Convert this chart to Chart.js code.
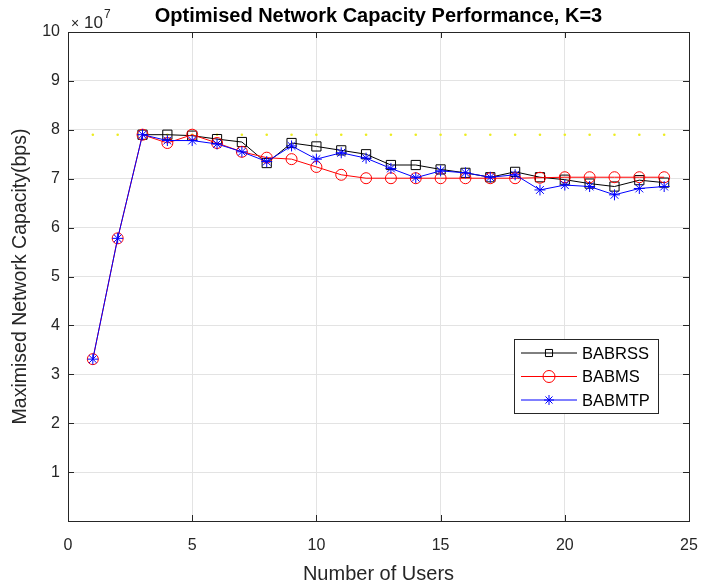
<!DOCTYPE html>
<html>
<head>
<meta charset="utf-8">
<script src="https://cdn.jsdelivr.net/npm/chart.js@4.4.1/dist/chart.umd.min.js"></script>
<style>
  html, body { margin: 0; padding: 0; background: #fff; }
  #wrap { width: 702px; height: 588px; }
</style>
</head>
<body>
<div id="wrap"><canvas id="capChart" width="702" height="588"></canvas></div>
<script>
// values are in units of 1e7 bps (axis shows x10^7)
const users = [1, 2, 3, 4, 5, 6, 7, 8, 9, 10, 11, 12, 13, 14, 15, 16, 17, 18, 19, 20, 21, 22, 23, 24];
const babrss = [null, null, 7.90, 7.90, 7.88, 7.81, 7.75, 7.32, 7.73, 7.66, 7.58, 7.50, 7.28, 7.28, 7.19, 7.12, 7.03, 7.14, 7.03, 6.98, 6.90, 6.84, 6.97, 6.92];
const babms  = [3.31, 5.78, 7.90, 7.73, 7.90, 7.73, 7.55, 7.43, 7.40, 7.24, 7.08, 7.01, 7.01, 7.01, 7.01, 7.01, 7.01, 7.01, 7.02, 7.03, 7.03, 7.03, 7.03, 7.03];
const babmtp = [3.31, 5.78, 7.90, 7.78, 7.78, 7.71, 7.55, 7.35, 7.67, 7.40, 7.53, 7.42, 7.21, 7.02, 7.16, 7.12, 7.03, 7.08, 6.77, 6.87, 6.84, 6.67, 6.80, 6.84];
const upperBound = [7.9, 7.9, 7.9, 7.9, 7.9, 7.9, 7.9, 7.9, 7.9, 7.9, 7.9, 7.9, 7.9, 7.9, 7.9, 7.9, 7.9, 7.9, 7.9, 7.9, 7.9, 7.9, 7.9, 7.9];
const xTicks = [0, 5, 10, 15, 20, 25];
const yTicks = [1, 2, 3, 4, 5, 6, 7, 8, 9, 10];

const axisColor = '#262626';
const fontFam = '"Liberation Sans", Arial, Helvetica, sans-serif';

const toPts = (vals) => vals.map((v, i) => ({ x: users[i], y: v }));

// box, inward ticks, title, exponent and legend drawn like MATLAB
const matlabDecor = {
    id: 'matlabDecor',
    afterDraw(chart) {
        const { ctx, chartArea: a, scales } = chart;
        ctx.save();
        ctx.strokeStyle = axisColor;
        ctx.lineWidth = 1;
        ctx.strokeRect(Math.round(a.left) + 0.5, Math.round(a.top) + 0.5,
            Math.round(a.right - a.left), Math.round(a.bottom - a.top));

        // inward ticks
        const tl = 6;
        ctx.beginPath();
        xTicks.forEach(t => {
            const px = Math.round(scales.x.getPixelForValue(t)) + 0.5;
            ctx.moveTo(px, a.bottom); ctx.lineTo(px, a.bottom - tl);
            ctx.moveTo(px, a.top); ctx.lineTo(px, a.top + tl);
        });
        yTicks.forEach(t => {
            const py = Math.round(scales.y.getPixelForValue(t)) + 0.5;
            ctx.moveTo(a.left, py); ctx.lineTo(a.left + tl, py);
            ctx.moveTo(a.right, py); ctx.lineTo(a.right - tl, py);
        });
        ctx.stroke();

        // title
        ctx.fillStyle = '#000';
        ctx.font = 'bold 20px ' + fontFam;
        ctx.textAlign = 'center';
        ctx.textBaseline = 'middle';
        ctx.fillText('Optimised Network Capacity Performance, K=3', (a.left + a.right) / 2, 16);

        // exponent label
        ctx.fillStyle = axisColor;
        ctx.textAlign = 'left';
        ctx.textBaseline = 'alphabetic';
        ctx.font = '14px ' + fontFam;
        ctx.fillText('\u00d7', 71, 28);
        ctx.font = '17px ' + fontFam;
        ctx.fillText('10', 84, 28);
        ctx.font = '12px ' + fontFam;
        ctx.fillText('7', 104, 18);

        // legend
        const lg = { x: 514, y: 339, w: 144, h: 74 };
        ctx.fillStyle = '#fff';
        ctx.fillRect(lg.x, lg.y, lg.w, lg.h);
        ctx.strokeStyle = axisColor;
        ctx.strokeRect(lg.x + 0.5, lg.y + 0.5, lg.w, lg.h);
        const items = [
            { label: 'BABRSS', color: '#000000', style: 'rect', r: 5 },
            { label: 'BABMS', color: '#ff0000', style: 'circle', r: 6 },
            { label: 'BABMTP', color: '#0000ff', style: 'star', r: 5 }
        ];
        items.forEach((it, i) => {
            const cy = 353 + i * 23.5;
            ctx.strokeStyle = it.color;
            ctx.lineWidth = 1;
            ctx.beginPath();
            ctx.moveTo(521, cy); ctx.lineTo(577, cy);
            ctx.stroke();
            ctx.fillStyle = 'rgba(0,0,0,0)';
            Chart.helpers.drawPoint(ctx, { pointStyle: it.style, radius: it.r, borderWidth: 1, rotation: 0 }, 549, cy);
            ctx.fillStyle = '#000';
            ctx.font = '16.5px ' + fontFam;
            ctx.textBaseline = 'middle';
            ctx.fillText(it.label, 582, cy + 1);
        });
        ctx.restore();
    }
};

const ctx = document.getElementById('capChart');
new Chart(ctx, {
    type: 'line',
    data: {
        datasets: [
            {
                label: 'Bound',
                data: toPts(upperBound),
                showLine: false,
                pointStyle: 'circle',
                pointRadius: 1.3,
                pointBorderWidth: 0,
                pointBackgroundColor: '#ecec20',
                pointBorderColor: '#ecec20',
                order: 4
            },
            {
                label: 'BABRSS',
                data: toPts(babrss),
                borderColor: '#000000',
                borderWidth: 1,
                pointStyle: 'rect',
                pointRadius: 6.5,
                pointBorderWidth: 1,
                pointBorderColor: '#000000',
                pointBackgroundColor: 'rgba(0,0,0,0)',
                order: 3
            },
            {
                label: 'BABMS',
                data: toPts(babms),
                borderColor: '#ff0000',
                borderWidth: 1,
                pointStyle: 'circle',
                pointRadius: 5.5,
                pointBorderWidth: 1,
                pointBorderColor: '#ff0000',
                pointBackgroundColor: 'rgba(0,0,0,0)',
                order: 2
            },
            {
                label: 'BABMTP',
                data: toPts(babmtp),
                borderColor: '#0000ff',
                borderWidth: 1,
                pointStyle: 'star',
                pointRadius: 5.5,
                pointBorderWidth: 1,
                pointBorderColor: '#0000ff',
                pointBackgroundColor: 'rgba(0,0,0,0)',
                order: 1
            }
        ]
    },
    options: {
        responsive: false,
        animation: false,
        tension: 0,
        layout: { padding: { top: 32, right: 13, left: 0, bottom: 0 } },
        plugins: {
            legend: { display: false },
            tooltip: { enabled: false },
            title: { display: false }
        },
        scales: {
            x: {
                type: 'linear',
                min: 0,
                max: 25,
                afterFit: (scale) => { scale.height = 67; scale.paddingLeft = 0; scale.paddingRight = 0; },
                afterBuildTicks: (scale) => { scale.ticks = xTicks.map(v => ({ value: v })); },
                grid: { color: '#e3e3e3', drawTicks: false },
                border: { color: axisColor },
                ticks: { color: axisColor, padding: 15, font: { size: 16, family: fontFam } },
                title: {
                    display: true,
                    text: 'Number of Users',
                    color: axisColor,
                    font: { size: 20, family: fontFam },
                    padding: { bottom: 2 }
                }
            },
            y: {
                type: 'linear',
                min: 0,
                max: 10,
                afterFit: (scale) => { scale.width = 68; scale.paddingTop = 0; scale.paddingBottom = 0; },
                afterBuildTicks: (scale) => { scale.ticks = [0].concat(yTicks).map(v => ({ value: v })); },
                grid: { color: (c) => c.tick && c.tick.value === 0 ? 'rgba(0,0,0,0)' : '#e3e3e3', drawTicks: false },
                border: { color: axisColor },
                ticks: {
                    color: axisColor,
                    padding: 8,
                    font: { size: 16, family: fontFam },
                    callback: (v) => v === 0 ? '' : v
                },
                title: {
                    display: true,
                    text: 'Maximised Network Capacity(bps)',
                    color: axisColor,
                    font: { size: 19.5, family: fontFam },
                    padding: { top: 9 }
                }
            }
        }
    },
    plugins: [matlabDecor]
});
</script>
</body>
</html>
